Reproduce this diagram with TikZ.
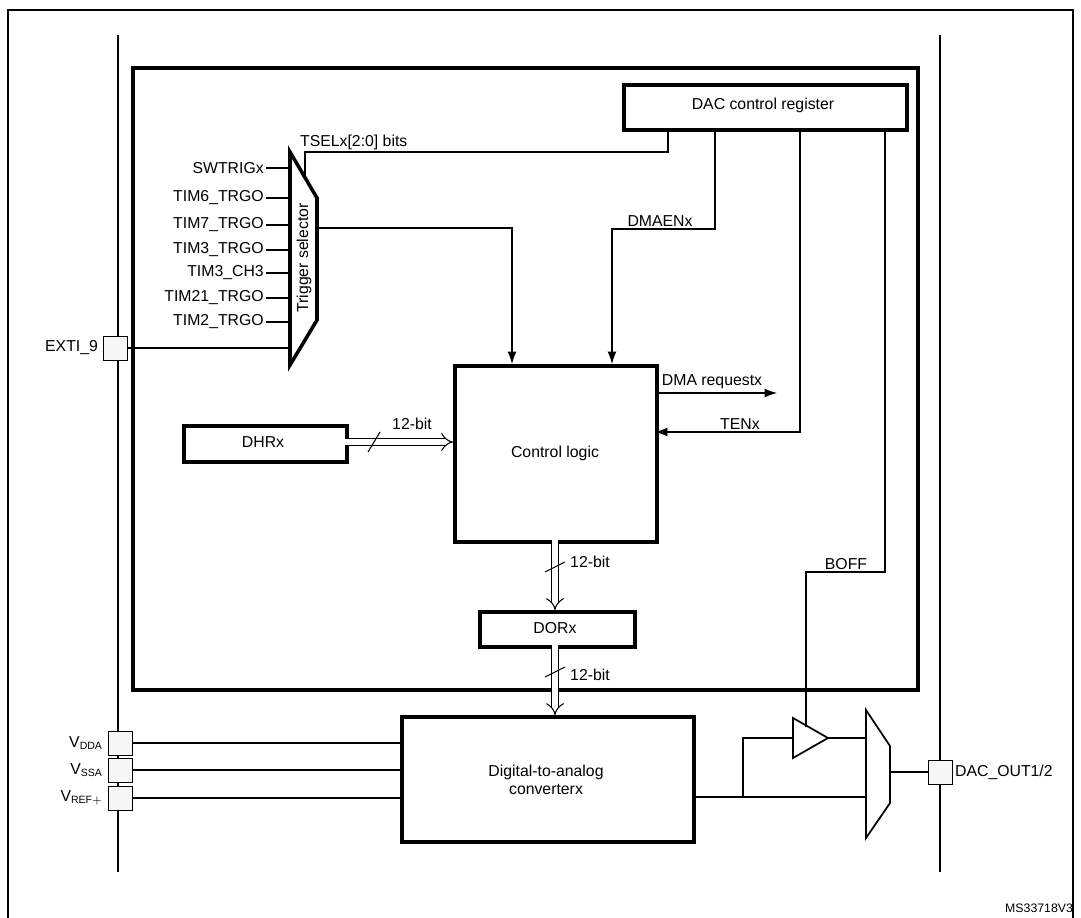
\documentclass[tikz,border=0pt]{standalone}
\usepackage{fontspec}
\setmainfont{Liberation Sans}
\usetikzlibrary{arrows.meta}
\tikzset{
  blk/.style={draw,line width=2pt,inner sep=0pt},
  pad/.style={draw,fill=gray!6,minimum size=13.5pt,inner sep=0pt},
  sig/.style={line width=0.6pt},
  bus/.style={double,double distance=3pt,line width=0.6pt,-{Implies[length=6pt,width=10pt]}},
  lbl/.style={font=\fontsize{9}{10}\selectfont,inner sep=1pt},
}
\begin{document}
\begin{tikzpicture}[x=0.02cm,y=-0.02cm]
     \useasboundingbox (0,0) rectangle (1081,918);
     % outer frame and power buses
     \draw[sig] (8,918) -- (8,10) -- (1073,10) -- (1073,918);
     \draw[sig] (118,35) -- (118,872);
     \draw[sig] (940,35) -- (940,872);
     \draw[line width=2pt] (133,68) rectangle (918,690);
     % blocks
     \node[blk,minimum width=283*0.02cm,minimum height=45*0.02cm,anchor=north west,lbl] (reg) at (622,83) {};
     \node[lbl] at (763,105) {DAC control register};
     \node[blk,minimum width=202*0.02cm,minimum height=176*0.02cm,anchor=north west] (ctl) at (453,364) {};
     \node[lbl] at (555,453) {Control logic};
     \node[blk,minimum width=163*0.02cm,minimum height=36*0.02cm,anchor=north west] (dhr) at (182,424) {};
     \node[lbl] at (263,442) {DHRx};
     \node[blk,minimum width=155*0.02cm,minimum height=35*0.02cm,anchor=north west] (dor) at (478,610) {};
     \node[lbl] at (555,628) {DORx};
     \node[blk,minimum width=292*0.02cm,minimum height=125*0.02cm,anchor=north west] (dac) at (400,715) {};
     \node[lbl,align=center] at (546,780) {Digital-to-analog\\converterx};
     % trigger selector
     \draw[line width=2pt] (290,152) -- (317,198) -- (317,320) -- (290,365) -- cycle;
     \node[lbl,rotate=90] at (304,258) {Trigger selector};
     \foreach \y/\t in {168/SWTRIGx,198/TIM6\_TRGO,225/TIM7\_TRGO,250/TIM3\_TRGO,273/TIM3\_CH3,298/TIM21\_TRGO,322/TIM2\_TRGO}
       \draw[sig] (290,\y) -- (266,\y) node[lbl,anchor=east] {\t};
     \node[pad] (exti) at (115,348) {};
     \node[lbl,anchor=east] at (100,348) {EXTI\_9};
     \draw[sig] (exti.east) -- (290,348);
     % control signals
     \draw[sig] (668,128) -- (668,152) -- (305,152) -- (305,175);
     \node[lbl,anchor=south west] at (298,152) {TSELx[2:0] bits};
     \draw[sig,-{Latex[length=7pt,width=5pt]}] (317,228) -- (512,228) -- (512,364);
     \draw[sig,-{Latex[length=7pt,width=5pt]}] (715,128) -- (715,229) -- (612,229) -- (612,364);
     \node[lbl,anchor=south] at (660,229) {DMAENx};
     \draw[sig,-{Latex[length=7pt,width=5pt]}] (800,128) -- (800,432) -- (655,432);
     \node[lbl,anchor=south] at (740,432) {TENx};
     \draw[sig,-{Latex[length=7pt,width=5pt]}] (655,393) -- (777,393);
     \node[lbl,anchor=south] at (712,391) {DMA requestx};
     \draw[sig] (885,128) -- (885,572) -- (806,572) -- (806,727);
     \node[lbl,anchor=south] at (846,572) {BOFF};
     % data buses
     \draw[bus] (345,442) -- (453,442);
     \draw[sig] (368,452) -- (380,432);
     \node[lbl] at (412,424) {12-bit};
     \draw[bus] (555,540) -- (555,610);
     \draw[sig] (545,572) -- (565,562);
     \node[lbl] at (590,562) {12-bit};
     \draw[bus] (555,645) -- (555,715);
     \draw[sig] (545,677) -- (565,667);
     \node[lbl] at (590,675) {12-bit};
     % supply pads
     \foreach \y/\t/\n in {743/DDA/vdda,770/SSA/vssa,798/REF+/vref}{
       \node[pad] (\n) at (120,\y) {};
       \node[lbl,anchor=east] at (105,\y) {V$_{\mathrm{\t}}$};
       \draw[sig] (\n.east) -- (400,\y);
     }
     % output stage
     \draw[sig] (692,797) -- (866,797);
     \draw[sig] (743,797) -- (743,738) -- (793,738);
     \draw[line width=1pt] (793,718) -- (828,738) -- (793,758) -- cycle;
     \draw[sig] (828,738) -- (866,738);
     \draw[line width=1pt] (866,710) -- (890,746) -- (890,803) -- (866,838) -- cycle;
     \node[pad] (out) at (940,772) {};
     \draw[sig] (890,772) -- (out.west);
     \node[lbl,anchor=west] at (953,772) {DAC\_OUT1/2};
     \node[lbl,font=\fontsize{7}{8}\selectfont,anchor=east] at (1075,908) {MS33718V3};
\end{tikzpicture}
\end{document}
